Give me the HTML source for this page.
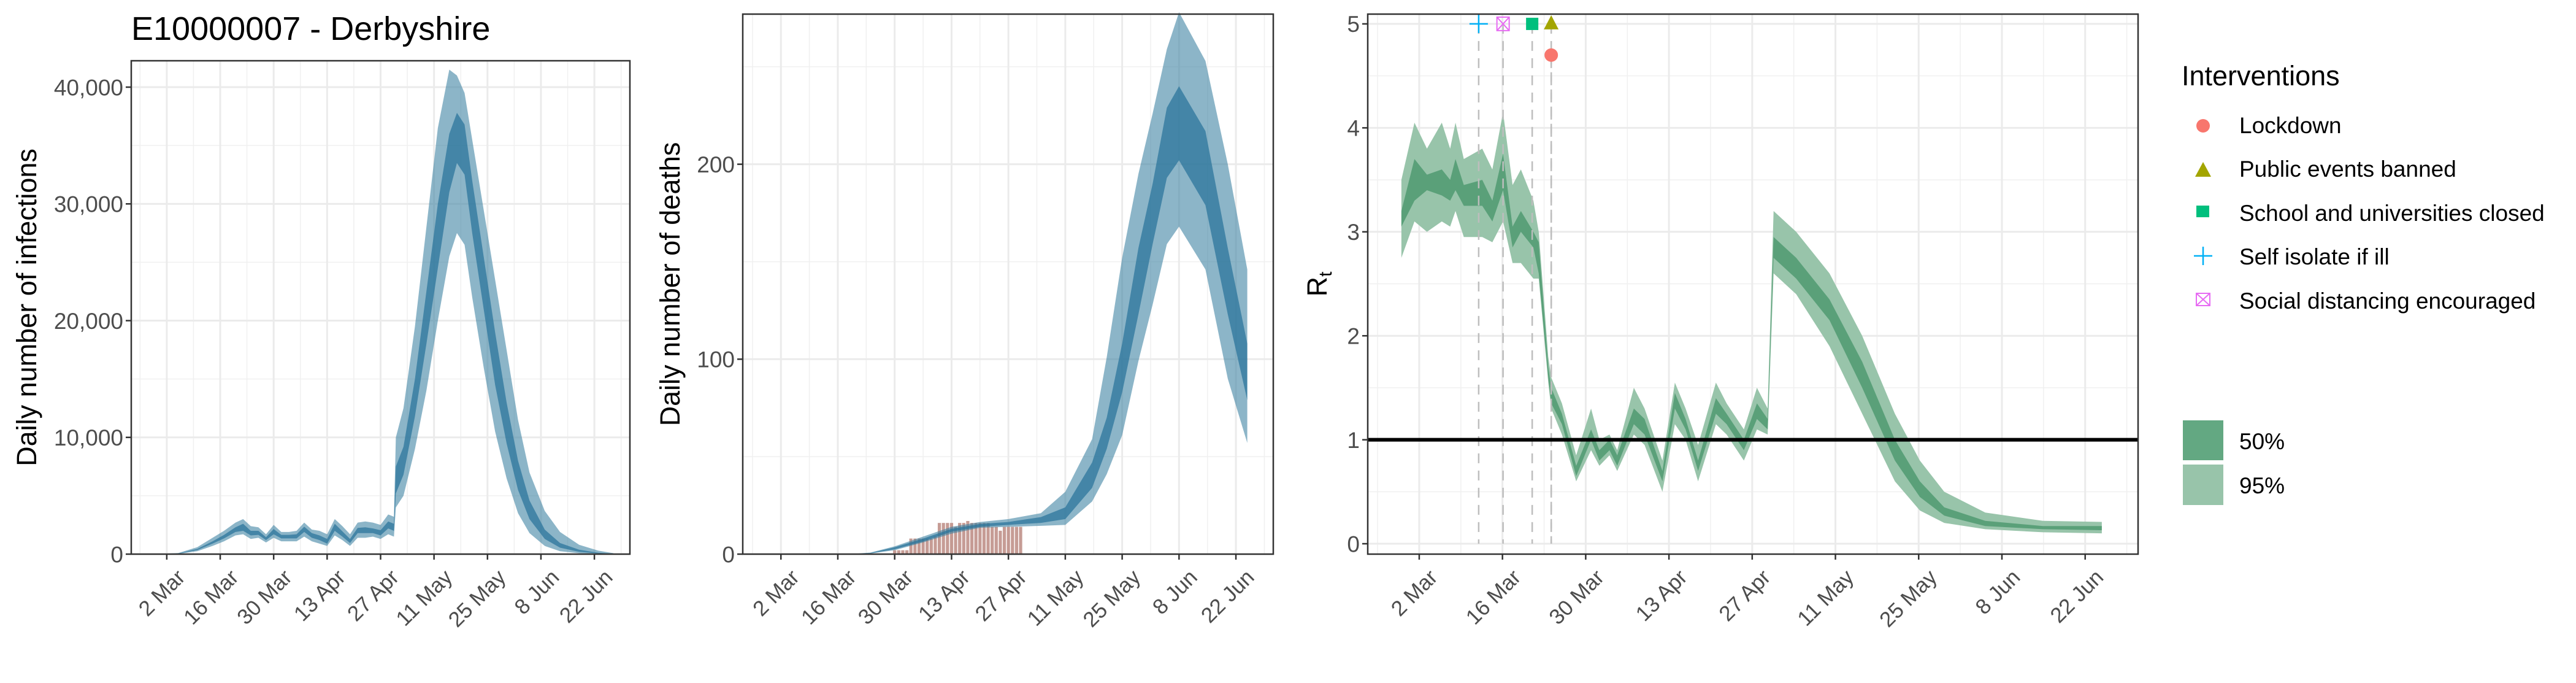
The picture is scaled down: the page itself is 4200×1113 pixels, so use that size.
<!DOCTYPE html>
<html><head><meta charset="utf-8"><style>
html,body{margin:0;padding:0;background:#fff;}
svg{display:block;font-family:"Liberation Sans",Arial,sans-serif;}
</style></head><body>
<svg id="chart" width="4200" height="1113" viewBox="0 0 4200 1113" xmlns="http://www.w3.org/2000/svg">
<text x="214" y="65" font-size="54" fill="#000">E10000007 - Derbyshire</text>
<g id="p1"></g>
<g id="p2"></g>
<g id="p3"></g>
<g id="legend">
<text x="3557" y="139" font-size="45" fill="#000">Interventions</text>
<circle cx="3592" cy="205" r="11" fill="#F8766D"/>
<text x="3651" y="217" font-size="37">Lockdown</text>
<polygon points="3579,288 3605,288 3592,264" fill="#A3A500"/>
<text x="3651" y="288" font-size="37">Public events banned</text>
<rect x="3581" y="335" width="21" height="19" fill="#00BF7D"/>
<text x="3651" y="360" font-size="37">School and universities closed</text>
<path d="M3577,417 H3607 M3592,402 V432" stroke="#00B0F6" stroke-width="2.5"/>
<text x="3651" y="431" font-size="37">Self isolate if ill</text>
<g stroke="#E76BF3" stroke-width="2" fill="none"><rect x="3581" y="478" width="22" height="20"/><path d="M3581,478 L3603,498 M3603,478 L3581,498"/></g>
<text x="3651" y="503" font-size="37">Social distancing encouraged</text>
<rect x="3559" y="685" width="66" height="65" fill="#63a882"/>
<text x="3651" y="732" font-size="37">50%</text>
<rect x="3559" y="757" width="66" height="66" fill="#98c4aa"/>
<text x="3651" y="804" font-size="37">95%</text>
</g>
</svg>
<script>
const dateLabels = ["2 Mar","16 Mar","30 Mar","13 Apr","27 Apr","11 May","25 May","8 Jun","22 Jun"];
const dateTicks = [0,14,28,42,56,70,84,98,112];

const infT    = [-3,3,8,12,15,18,20,22,24,26,28,30,32,34,36,38,40,42,44,46,48,50,52,54,56,58,59.5,60,62,65,68,71,74,76,78,80,83,86,89,92,95,99,103,108,113,117];
const infLo95 = [0,20,250,700,1100,1600,1700,1300,1400,1000,1400,1100,1100,1100,1500,1100,900,700,1600,1200,700,1400,1400,1500,1300,1700,1500,4000,5000,9000,14000,20000,25500,27500,26500,22000,16000,10500,6500,3500,1800,700,250,80,20,0];
const infLo50 = [0,40,350,900,1350,1900,2000,1600,1650,1200,1700,1350,1350,1350,1900,1400,1200,900,2000,1500,950,1800,1800,1800,1600,2200,2000,5200,6800,11800,18000,24500,31000,33500,32500,27500,21000,14500,9500,5500,3000,1300,550,200,60,10];
const infHi50 = [0,60,450,1100,1650,2300,2600,2000,2000,1450,2150,1650,1650,1700,2350,1800,1600,1300,2600,1950,1300,2250,2300,2200,2050,2800,2600,7500,9200,15000,22500,30000,36000,37800,36800,32000,25500,19000,13000,8000,4600,2100,950,380,120,30];
const infHi95 = [0,90,600,1400,2000,2700,3000,2400,2300,1700,2500,1900,1900,2000,2700,2100,2000,1700,3000,2400,1700,2700,2800,2700,2500,3400,3200,10000,12500,19500,28000,36500,41500,41000,39500,35500,29500,23500,17500,11500,7000,3700,1900,800,300,80];
const infYTicks = [0,10000,20000,30000,40000];
const infYLabels = ["0","10,000","20,000","30,000","40,000"];

const dT    = [17,22,28,35,42,49,56,64,70,76.6,80.2,84,88,91.5,95,98,104.5,110,114.8];
const dLo95 = [0,0.3,2,6,10.5,13.5,14,14.5,15,27,41,61,99,128,159,168,146,90,57];
const dLo50 = [0,0.4,2.5,6.5,11.5,14,15,16,18,34,54,83,123,159,193,202,179,123,79];
const dHi50 = [0,0.6,3.5,8,13,15.5,16.5,19,24,47,70,108,157,190,229,240,217,157,108];
const dHi95 = [0,0.8,4,9,14,16.5,18,21,32,59,101,152,195,226,259,278,253,200,146];
const obsStart = 28;
const obsDeaths = [2,2,2,2,8,8,8,8,8,8,9,16,16,16,16,14,16,16,17,16,16,16,16,16,14,14,12,14,14,14,14,14];
const dYTicks = [0,100,200];
const dYLabels = ["0","100","200"];

const rT    = [-3,-0.8,1.3,3.8,5.2,6.1,7.5,10.6,12.3,14.1,15.7,17.1,19.2,20.1,21.7,22.2,24,26.4,28.9,30.3,32,33.3,36.1,37.9,40.9,43,44.8,46.9,49.9,51.7,54.6,56.8,58.6,59.6,63.4,69,74.5,80,84.2,88.3,95.2,104.9,114.8];
const rLo50 = [3.05,3.3,3.4,3.35,3.3,3.4,3.25,3.25,3.1,3.4,2.85,3.0,2.85,2.6,1.6,1.35,1.15,0.65,1.0,0.8,0.9,0.75,1.15,1.05,0.6,1.3,1.1,0.7,1.25,1.15,0.9,1.2,1.1,2.75,2.55,2.15,1.5,0.8,0.45,0.27,0.17,0.14,0.13];
const rHi50 = [3.2,3.7,3.55,3.6,3.5,3.7,3.45,3.5,3.3,3.75,3.05,3.2,3.0,2.9,1.7,1.5,1.25,0.75,1.1,0.9,1.0,0.85,1.3,1.2,0.7,1.45,1.2,0.8,1.4,1.25,1.0,1.35,1.2,2.95,2.75,2.35,1.75,1.0,0.6,0.35,0.22,0.17,0.17];
const rLo95 = [2.75,3.1,3.0,3.1,3.05,3.2,2.95,2.95,2.9,3.1,2.7,2.7,2.55,2.55,1.55,1.3,1.05,0.6,0.9,0.75,0.85,0.7,1.05,0.95,0.5,1.15,1.0,0.6,1.15,1.05,0.8,1.1,1.05,2.6,2.4,1.9,1.25,0.6,0.32,0.2,0.14,0.11,0.1];
const rHi95 = [3.5,4.05,3.8,4.05,3.8,4.05,3.7,3.8,3.6,4.15,3.45,3.6,3.3,3.0,1.8,1.6,1.35,0.85,1.3,1.0,1.05,0.9,1.5,1.3,0.8,1.55,1.3,0.95,1.55,1.35,1.1,1.5,1.3,3.2,3.0,2.6,2.0,1.25,0.8,0.5,0.3,0.22,0.21];
const rYTicks = [0,1,2,3,4,5];
const rYLabels = ["0","1","2","3","4","5"];
const ivNames = ["self-isolate","social-distancing","school-closed","public-events","lockdown"];
const ivT = [10,14.1,19,22.2,22.2];
const ivY = [5,5,5,5,4.7];

const NS = "http://www.w3.org/2000/svg";
function mk(parent, tag, attrs){const e=document.createElementNS(NS,tag);for(const k in attrs)e.setAttribute(k,attrs[k]);parent.appendChild(e);return e;}

function panel(g, P){
  const sx = t => P.left + (t - P.x0)/(P.x1 - P.x0)*(P.right - P.left);
  const sy = v => P.bottom - (v - P.y0)/(P.y1 - P.y0)*(P.bottom - P.top);
  for(let t=-7;t<=126;t+=14){ if(sx(t)>P.left && sx(t)<P.right){ const l=mk(g,'line',{x1:sx(t),x2:sx(t),y1:P.top,y2:P.bottom,stroke:'#f0f0f0','stroke-width':1.5});
     }}
  P.minorY.forEach(v=>{ const l=mk(g,'line',{x1:P.left,x2:P.right,y1:sy(v),y2:sy(v),stroke:'#f0f0f0','stroke-width':1.5});
     });
  dateTicks.forEach(t=>{ const l=mk(g,'line',{x1:sx(t),x2:sx(t),y1:P.top,y2:P.bottom,stroke:'#ebebeb','stroke-width':3});
     });
  P.yTicks.forEach(v=>{ const l=mk(g,'line',{x1:P.left,x2:P.right,y1:sy(v),y2:sy(v),stroke:'#ebebeb','stroke-width':3});
     });
  P.draw(g, sx, sy);
  const b=mk(g,'rect',{x:P.left,y:P.top,width:P.right-P.left,height:P.bottom-P.top,fill:'none',stroke:'#333','stroke-width':2.5});
   
  P.yTicks.forEach((v,i)=>{
    const tk=mk(g,'line',{x1:P.left-9,x2:P.left,y1:sy(v),y2:sy(v),stroke:'#333','stroke-width':2.5});
     
    const tx=mk(g,'text',{x:P.left-13,y:sy(v),dy:'0.36em','text-anchor':'end','font-size':37,fill:'#4d4d4d'});
    tx.textContent=P.yLabels[i];
     
  });
  dateTicks.forEach((t,i)=>{
    const tk=mk(g,'line',{x1:sx(t),x2:sx(t),y1:P.bottom,y2:P.bottom+9,stroke:'#333','stroke-width':2.5});
     
    const tx=mk(g,'text',{transform:`translate(${sx(t)+14},${P.bottom+22}) rotate(-45)`,dy:'0.72em','text-anchor':'end','font-size':35,fill:'#4d4d4d'});
    tx.textContent=dateLabels[i];
     
  });
}
function band(g, sx, sy, T, lo, hi, fill, op, name){
  let pts=T.map((t,i)=>sx(t)+','+sy(hi[i]));
  for(let i=T.length-1;i>=0;i--) pts.push(sx(T[i])+','+sy(lo[i]));
  const p=mk(g,'polygon',{points:pts.join(' '),fill:fill,'fill-opacity':op});
   
}
function ytitle(x, y, text, name){
  const t=mk(document.getElementById('chart'),'text',{transform:`translate(${x},${y}) rotate(-90)`,'text-anchor':'middle','font-size':45,fill:'#000',dy:'0.36em'});
  t.textContent=text;   return t;
}

panel(document.getElementById('p1'),{left:214,right:1027,top:99,bottom:903,x0:-9.3,x1:121.3,y0:0,y1:42260,
  yTicks:infYTicks,yLabels:infYLabels,minorY:[5000,15000,25000,35000],
  draw:(g,sx,sy)=>{band(g,sx,sy,infT,infLo95,infHi95,'#3980a0',0.58,'infections-95-band');
                   band(g,sx,sy,infT,infLo50,infHi50,'#28739a',0.72,'infections-50-band');}});
ytitle(43,501,'Daily number of infections','y-axis-title-infections');

panel(document.getElementById('p2'),{left:1211,right:2076,top:23,bottom:903,x0:-9.4,x1:121.2,y0:0,y1:277,
  yTicks:dYTicks,yLabels:dYLabels,minorY:[50,150,250],
  draw:(g,sx,sy)=>{
    const w=(sx(1)-sx(0));
    obsDeaths.forEach((v,i)=>{const t=obsStart+i;
      const r=mk(g,'rect',{x:sx(t)-w/2+0.7,y:sy(v),width:w-1.4,height:sy(0)-sy(v),fill:'#bc8b82','fill-opacity':0.85});
       });
    band(g,sx,sy,dT,dLo95,dHi95,'#3980a0',0.58,'deaths-95-band');
    band(g,sx,sy,dT,dLo50,dHi50,'#28739a',0.72,'deaths-50-band');}});
ytitle(1092,463,'Daily number of deaths','y-axis-title-deaths');

panel(document.getElementById('p3'),{left:2230,right:3486,top:23,bottom:903,x0:-8.66,x1:120.9,y0:-0.1,y1:5.094,
  yTicks:rYTicks,yLabels:rYLabels,minorY:[0.5,1.5,2.5,3.5,4.5],
  draw:(g,sx,sy)=>{
    band(g,sx,sy,rT,rLo95,rHi95,'#98c4aa',1,'rt-95-band');
    band(g,sx,sy,rT,rLo50,rHi50,'#4f9a71',0.85,'rt-50-band');
    ivT.forEach((t,i)=>{const l=mk(g,'line',{x1:sx(t),x2:sx(t),y1:sy(ivY[i]),y2:sy(0),stroke:'#bdbdbd','stroke-width':2.5,'stroke-dasharray':'16,12'});
       });
    const h=mk(g,'line',{x1:2230,x2:3486,y1:sy(1),y2:sy(1),stroke:'#000','stroke-width':6});
     
    let x,y;
    x=sx(ivT[0]);y=sy(ivY[0]);
    const m0=mk(g,'path',{d:`M${x-15},${y} H${x+15} M${x},${y-15} V${y+15}`,stroke:'#00B0F6','stroke-width':2.5});
     
    x=sx(ivT[1]);y=sy(ivY[1]);
    const m1=mk(g,'path',{d:`M${x-10},${y-11} h20 v22 h-20 z M${x-10},${y-11} L${x+10},${y+11} M${x+10},${y-11} L${x-10},${y+11}`,stroke:'#E76BF3','stroke-width':2,fill:'none'});
     
    x=sx(ivT[2]);y=sy(ivY[2]);
    const m2=mk(g,'rect',{x:x-10,y:y-10,width:20,height:20,fill:'#00BF7D'});
     
    x=sx(ivT[3]);y=sy(ivY[3]);
    const m3=mk(g,'polygon',{points:`${x-12},${y+9} ${x+12},${y+9} ${x},${y-14}`,fill:'#A3A500'});
     
    x=sx(ivT[4]);y=sy(ivY[4]);
    const m4=mk(g,'circle',{cx:x,cy:y,r:11,fill:'#F8766D'});
     
  }});
const rt=mk(document.getElementById('chart'),'text',{transform:'translate(2147,463) rotate(-90)','text-anchor':'middle','font-size':45,fill:'#000',dy:'0.36em'});


rt.appendChild(document.createTextNode('R'));
const sub=mk(rt,'tspan',{'font-size':30,dy:'8'}); sub.textContent='t';
</script>
</body></html>
